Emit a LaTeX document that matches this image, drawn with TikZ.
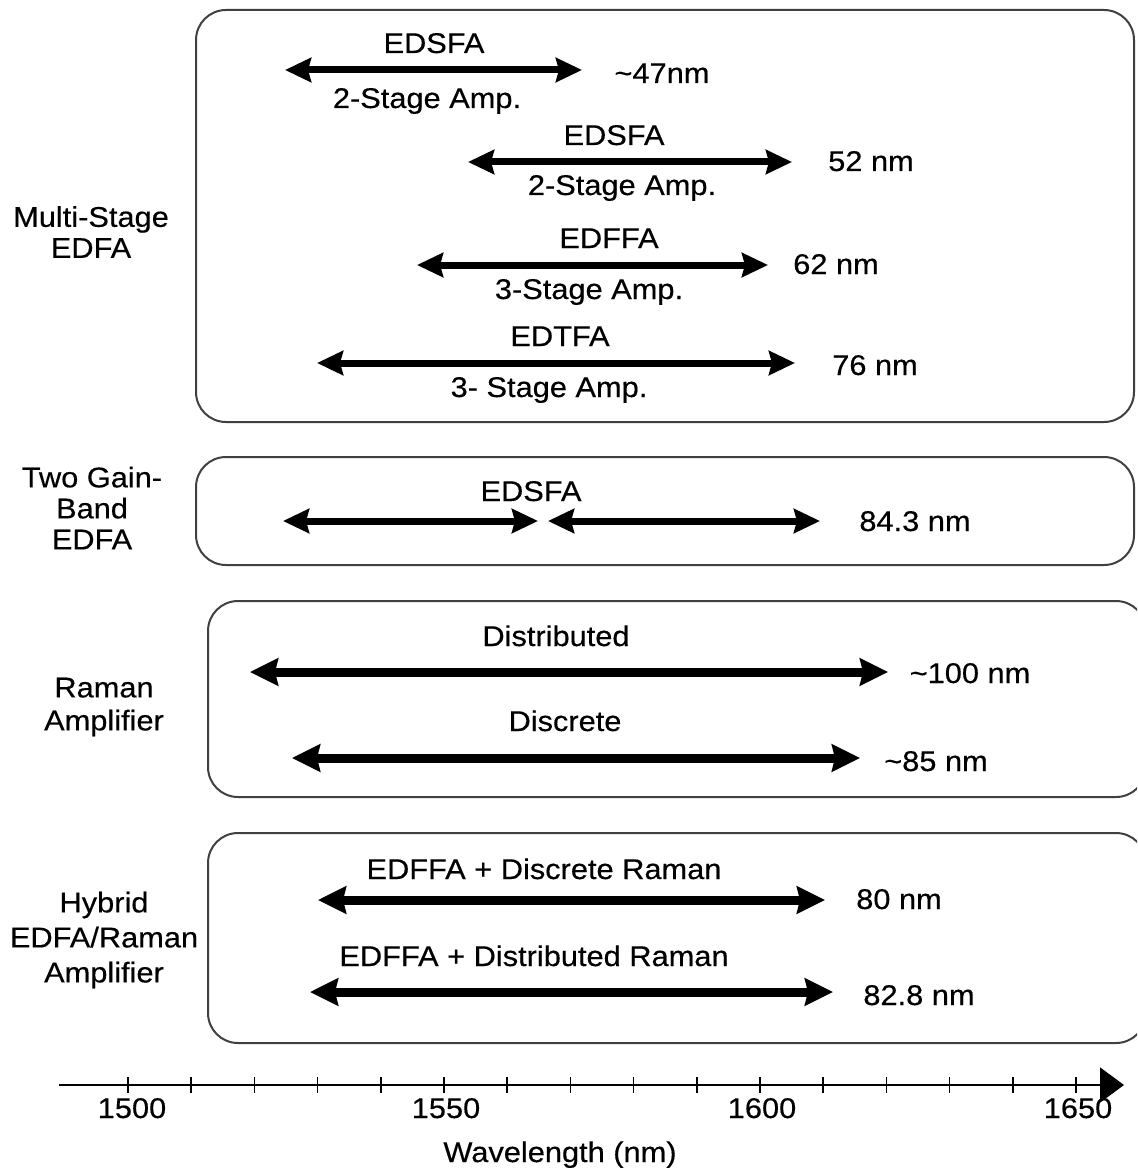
\documentclass[tikz,border=0pt]{standalone}
\usepackage{fontspec}
\setmainfont{Liberation Sans}[FakeStretch=1.08,FakeBold=0.4]
\usetikzlibrary{arrows.meta}
\begin{document}
\begin{tikzpicture}[x=1pt,y=-1pt,
  grpbox/.style={draw=black!75,line width=2pt,rounded corners=30pt},
  rng/.style={line width=7pt,{Stealth[length=26pt,width=24pt,inset=3pt]}-{Stealth[length=26pt,width=24pt,inset=3pt]}},
  rngb/.style={line width=9pt,{Stealth[length=28pt,width=27pt,inset=3pt]}-{Stealth[length=28pt,width=27pt,inset=3pt]}},
  lbl/.style={font=\fontsize{28.5}{30}\selectfont,inner sep=0pt,anchor=base},
  side/.style={font=\fontsize{28.5}{31}\selectfont,inner sep=0pt,align=center},
  tick/.style={line width=1.6pt}]
\useasboundingbox (0,0) rectangle (1137,1169);
\begin{scope}
\clip (0,0) rectangle (1137,1169);
% group boxes
\draw[grpbox] (196,10) rectangle (1134,422);
\draw[grpbox] (196,457) rectangle (1134,565);
\draw[grpbox] (208,601) rectangle (1146,797);
\draw[grpbox] (208,833) rectangle (1146,1043);
\end{scope}
% left labels
\node[side] (lms) at (91,232) {Multi-Stage\\EDFA};
\node[side] (ltg) at (92,508) {Two Gain-\\Band\\EDFA};
\node[side,font=\fontsize{28.5}{33}\selectfont] (lra) at (104,707) {Raman\\Amplifier};
\node[side,font=\fontsize{28.5}{35}\selectfont] (lhy) at (104,940) {Hybrid\\EDFA/Raman\\Amplifier};
% Multi-stage arrows
\coordinate (a1l) at (285,70);  \coordinate (a1r) at (582,70);
\coordinate (a2l) at (468,162); \coordinate (a2r) at (792,162);
\coordinate (a3l) at (417,265); \coordinate (a3r) at (768,265);
\coordinate (a4l) at (317,363); \coordinate (a4r) at (795,363);
\draw[rng] (a1l) -- (a1r);
\draw[rng] (a2l) -- (a2r);
\draw[rng] (a3l) -- (a3r);
\draw[rng] (a4l) -- (a4r);
\node[lbl] (t1a) at (434,53) {EDSFA};
\node[lbl] (t1b) at (427,108) {2-Stage Amp.};
\node[lbl] (t1c) at (662,83) {\textasciitilde47nm};
\node[lbl] (t2a) at (614,145) {EDSFA};
\node[lbl] (t2b) at (622,195) {2-Stage Amp.};
\node[lbl] (t2c) at (871,171) {52 nm};
\node[lbl] (t3a) at (609,248) {EDFFA};
\node[lbl] (t3b) at (589,299) {3-Stage Amp.};
\node[lbl] (t3c) at (836,274) {62 nm};
\node[lbl] (t4a) at (560,346) {EDTFA};
\node[lbl] (t4b) at (549,397) {3- Stage Amp.};
\node[lbl] (t4c) at (875,375) {76 nm};
% two gain band
\coordinate (b1l) at (283,521); \coordinate (b1r) at (538,521);
\coordinate (b2l) at (548,521); \coordinate (b2r) at (820,521);
\draw[rng] (b1l) -- (b1r);
\draw[rng] (b2l) -- (b2r);
\node[lbl] (tba) at (531,501) {EDSFA};
\node[lbl] (tbc) at (915,531) {84.3 nm};
% Raman
\coordinate (r1l) at (250,672); \coordinate (r1r) at (888,672);
\coordinate (r2l) at (292,758); \coordinate (r2r) at (860,758);
\draw[rngb] (r1l) -- (r1r);
\draw[rngb] (r2l) -- (r2r);
\node[lbl] (tra) at (556,646) {Distributed};
\node[lbl] (trb) at (970,683) {\textasciitilde100 nm};
\node[lbl] (trc) at (565,731) {Discrete};
\node[lbl] (trd) at (936,771) {\textasciitilde85 nm};
% Hybrid
\coordinate (h1l) at (318,900); \coordinate (h1r) at (825,900);
\coordinate (h2l) at (310,992); \coordinate (h2r) at (833,992);
\draw[rngb] (h1l) -- (h1r);
\draw[rngb] (h2l) -- (h2r);
\node[lbl] (tha) at (544,879) {EDFFA + Discrete Raman};
\node[lbl] (thb) at (899,909) {80 nm};
\node[lbl] (thc) at (534,966) {EDFFA + Distributed Raman};
\node[lbl] (thd) at (919,1005) {82.8 nm};
% axis
\coordinate (ax0) at (59,1085);
\coordinate (ax1) at (1124,1085);
\draw[line width=1.8pt,-{Triangle[length=24pt,width=35pt]}] (ax0) -- (ax1);
\foreach \i in {0,...,15}{\draw[tick] (128+\i*63.2,1077) -- (128+\i*63.2,1093);}
\node[lbl] (x1) at (132,1118) {1500};
\node[lbl] (x2) at (446,1118) {1550};
\node[lbl] (x3) at (762,1118) {1600};
\node[lbl] (x4) at (1078,1118) {1650};
\node[lbl] (xt) at (560,1162) {Wavelength (nm)};
\end{tikzpicture}
\end{document}
